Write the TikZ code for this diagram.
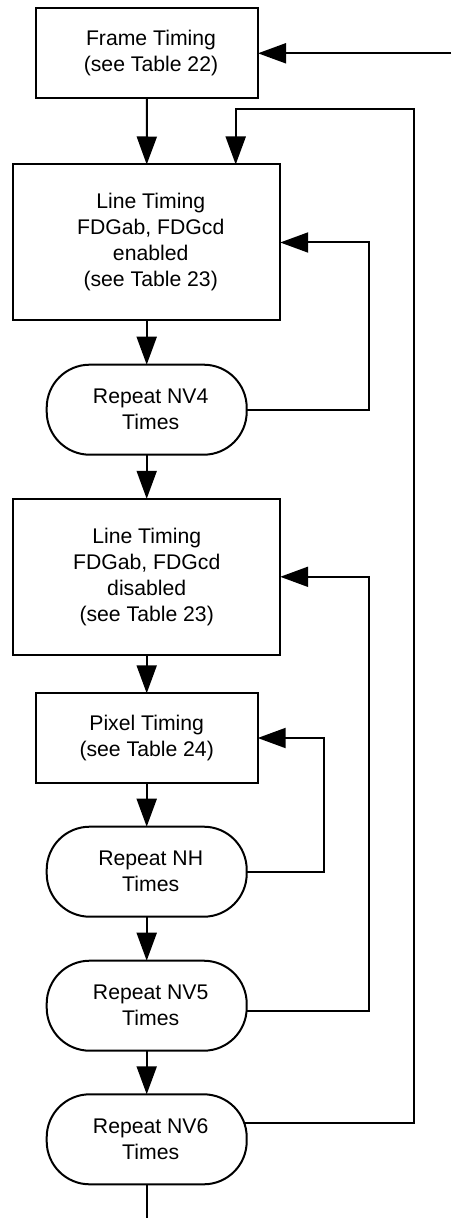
\documentclass[tikz,border=0pt]{standalone}
\usepackage{fontspec}
\setmainfont{Liberation Sans}
\usetikzlibrary{arrows.meta}
\newcommand{\tsh}{\hspace*{4pt}}
\begin{document}
\begin{tikzpicture}[x=0.5pt,y=-0.5pt,
  every node/.style={font=\fontsize{10.6}{13}\selectfont, align=center, outer sep=0pt, inner sep=0pt},
  sqbox/.style={draw, line width=1pt, rectangle},
  rndbox/.style={draw, line width=1pt, rectangle, rounded corners=21.5pt, minimum width=100pt, minimum height=45pt},
  conn/.style={line width=1pt},
  arr/.style={line width=1pt, -{Triangle[length=14pt,width=10pt]}}
]
\useasboundingbox (0,0) rectangle (451,1218);

\node[sqbox, minimum width=111pt, minimum height=45pt] (frame) at (147,53) {\tsh Frame Timing\\\tsh(see Table 22)};
\node[sqbox, minimum width=133.5pt, minimum height=78pt] (line1) at (146.7,242.5) {\tsh Line Timing\\\tsh FDGab, FDGcd\\\tsh enabled\\\tsh(see Table 23)};
\node[rndbox] (nv4) at (146.7,409.7) {\tsh Repeat NV4\\\tsh Times};
\node[sqbox, minimum width=133.5pt, minimum height=78pt] (line2) at (146.7,576.8) {Line Timing\\FDGab, FDGcd\\disabled\\(see Table 23)};
\node[sqbox, minimum width=111pt, minimum height=44.7pt] (pixel) at (146.7,738) {Pixel Timing\\(see Table 24)};
\node[rndbox] (nh) at (146.7,871.7) {\tsh Repeat NH\\\tsh Times};
\node[rndbox] (nv5) at (146.7,1005.7) {\tsh Repeat NV5\\\tsh Times};
\node[rndbox] (nv6) at (146.7,1139.3) {\tsh Repeat NV6\\\tsh Times};

\coordinate (inR) at (451,53.3);
\coordinate (outB) at (146.7,1218);
\coordinate (loopTL) at (235.7,108.7);
\coordinate (loopTR) at (413.7,108.7);
\coordinate (loopBR) at (413.7,1122.7);
\coordinate (nv6out) at (245.3,1122.7);

% main chain
\draw[arr] (inR) -- (frame.east |- inR);
\draw[arr] (frame.south) -- (line1.north);
\draw[arr] (line1.south) -- (nv4.north);
\draw[arr] (nv4.south) -- (line2.north);
\draw[arr] (line2.south) -- (pixel.north);
\draw[arr] (pixel.south) -- (nh.north);
\draw[arr] (nh.south) -- (nv5.north);
\draw[arr] (nv5.south) -- (nv6.north);
\draw[conn] (nv6.south) -- (outB);

% loops
\draw[arr] (nv4.east) -- (369,409.7) -- (369,242.5) -- (line1.east);
\draw[arr] (nh.east) -- (324.3,871.7) -- (324.3,738) -- (pixel.east);
\draw[arr] (nv5.east |- 0,1011.3) -- (369,1011.3) -- (369,576.8) -- (line2.east);
\draw[arr] (nv6out) -- (loopBR) -- (loopTR) -- (loopTL) -- (loopTL |- line1.north);
\end{tikzpicture}
\end{document}
